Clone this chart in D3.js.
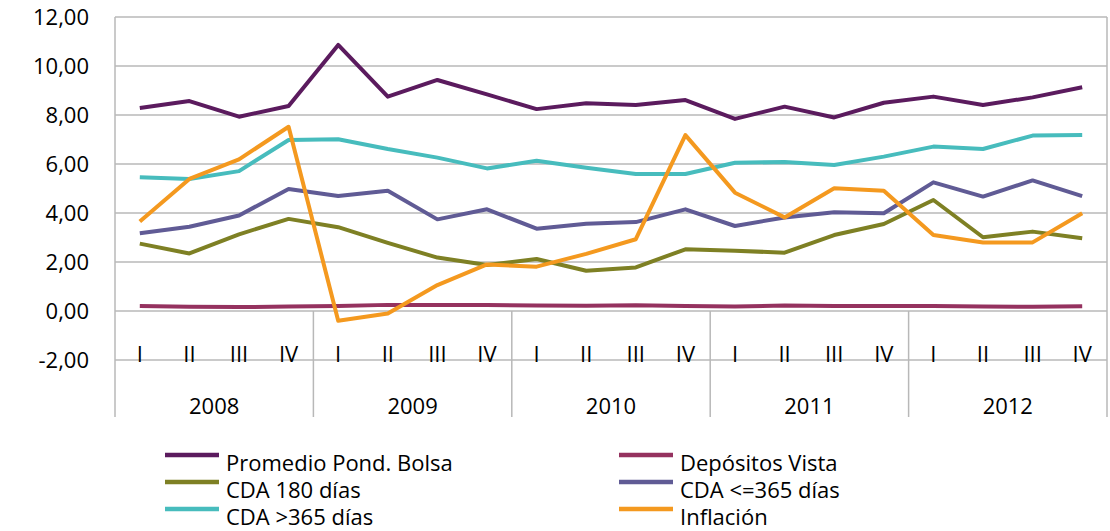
<!DOCTYPE html>
<html>
<head>
<meta charset="utf-8">
<script src="https://cdn.jsdelivr.net/npm/d3@7"></script>
<style>
  body { margin: 0; background: #fff; }
  svg text { font-family: "Open Sans", "Noto Sans", sans-serif; fill: #000; }
</style>
</head>
<body>
<svg id="chart" width="1110" height="531"></svg>
<script>
// data
var years = ["2008", "2009", "2010", "2011", "2012"];
var quarters = ["I", "II", "III", "IV"];
var yTicks = [-2, 0, 2, 4, 6, 8, 10, 12];

var promedioBolsa = [8.29, 8.57, 7.93, 8.37, 10.86, 8.75, 9.43, 8.84, 8.24, 8.48, 8.41, 8.61, 7.84, 8.34, 7.90, 8.50, 8.75, 8.41, 8.72, 9.13];
var depositosVista = [0.20, 0.17, 0.16, 0.18, 0.20, 0.25, 0.25, 0.24, 0.22, 0.21, 0.23, 0.20, 0.18, 0.22, 0.20, 0.20, 0.20, 0.18, 0.17, 0.19];
var cda180 = [2.75, 2.35, 3.13, 3.76, 3.42, 2.78, 2.18, 1.88, 2.12, 1.64, 1.78, 2.52, 2.46, 2.38, 3.10, 3.55, 4.53, 3.01, 3.24, 2.97];
var cdaHasta365 = [3.17, 3.44, 3.90, 4.98, 4.69, 4.91, 3.74, 4.15, 3.36, 3.56, 3.63, 4.15, 3.47, 3.82, 4.03, 3.99, 5.25, 4.67, 5.33, 4.69];
var cdaMas365 = [5.46, 5.39, 5.71, 6.98, 7.01, 6.61, 6.26, 5.82, 6.13, 5.85, 5.59, 5.59, 6.05, 6.08, 5.96, 6.30, 6.71, 6.61, 7.16, 7.18];
var inflacion = [3.65, 5.39, 6.19, 7.52, -0.40, -0.10, 1.06, 1.90, 1.81, 2.33, 2.93, 7.18, 4.83, 3.82, 5.01, 4.91, 3.10, 2.80, 2.80, 3.99];

var seriesNames = ["Promedio Pond. Bolsa", "Depósitos Vista", "CDA 180 días", "CDA <=365 días", "CDA >365 días", "Inflación"];
var seriesColors = ["#5b1b5e", "#95325f", "#7e8024", "#605b95", "#47bcbd", "#f4991f"];
var seriesValues = [promedioBolsa, depositosVista, cda180, cdaHasta365, cdaMas365, inflacion];

var svg = d3.select("#chart");

// plot box (note: "top" is reserved on window, so use plotTop)
var plotLeft = 115, plotRight = 1107, plotTop = 17, plotBottom = 360, axisBottom = 417;

// category keys like 2008-I
var cats = [];
years.forEach(function (yr) {
    quarters.forEach(function (q) { cats.push(yr + "-" + q); });
});

var x = d3.scaleBand().domain(cats).range([plotLeft, plotRight]).padding(0);
var y = d3.scaleLinear().domain([-2, 12]).range([plotBottom, plotTop]);
var cx = function (i) { return x(cats[i]) + x.bandwidth() / 2; };

var grid = "#b8b8b8";

// horizontal gridlines
svg.append("g")
    .selectAll("line")
    .data(yTicks)
    .enter()
    .append("line")
    .attr("x1", plotLeft).attr("x2", plotRight)
    .attr("y1", function (d) { return y(d); })
    .attr("y2", function (d) { return y(d); })
    .attr("stroke", grid)
    .attr("stroke-width", 1.5);

// left and right borders
svg.append("line").attr("x1", plotLeft).attr("x2", plotLeft).attr("y1", plotTop).attr("y2", axisBottom)
    .attr("stroke", grid).attr("stroke-width", 1.5);
svg.append("line").attr("x1", plotRight).attr("x2", plotRight).attr("y1", plotTop).attr("y2", axisBottom)
    .attr("stroke", grid).attr("stroke-width", 1.5);

// year separators below the zero line
svg.append("g")
    .selectAll("line")
    .data(years.slice(1))
    .enter()
    .append("line")
    .attr("x1", function (d) { return x(d + "-I"); })
    .attr("x2", function (d) { return x(d + "-I"); })
    .attr("y1", y(0)).attr("y2", axisBottom)
    .attr("stroke", grid).attr("stroke-width", 1.5);

// y labels, spanish decimal comma and plain hyphen for negatives
var fmt = d3.formatLocale({ decimal: ",", thousands: ".", grouping: [3], currency: ["", ""], minus: "-" }).format(".2f");

svg.append("g")
    .selectAll("text")
    .data(yTicks)
    .enter()
    .append("text")
    .attr("x", 89)
    .attr("y", function (d) { return y(d); })
    .attr("dy", "0.36em")
    .attr("text-anchor", "end")
    .attr("font-size", "22px")
    .text(function (d) { return fmt(d); });

// quarter labels
svg.append("g")
    .selectAll("text")
    .data(cats)
    .enter()
    .append("text")
    .attr("x", function (d) { return x(d) + x.bandwidth() / 2; })
    .attr("y", 362)
    .attr("text-anchor", "middle")
    .attr("font-size", "22px")
    .text(function (d) { return d.split("-")[1]; });

// year labels
svg.append("g")
    .selectAll("text")
    .data(years)
    .enter()
    .append("text")
    .attr("x", function (d) { return x(d + "-I") + x.bandwidth() * 2; })
    .attr("y", 414)
    .attr("text-anchor", "middle")
    .attr("font-size", "22px")
    .text(function (d) { return d; });

// lines
var line = d3.line()
    .x(function (d, i) { return cx(i); })
    .y(function (d) { return y(d); });

svg.append("g")
    .selectAll("path")
    .data(seriesValues)
    .enter()
    .append("path")
    .attr("d", line)
    .attr("fill", "none")
    .attr("stroke", function (d, i) { return seriesColors[i]; })
    .attr("stroke-width", 4)
    .attr("stroke-linejoin", "round");

// legend
var legend = svg.append("g")
    .selectAll("g")
    .data(seriesNames)
    .enter()
    .append("g")
    .attr("transform", function (d, i) {
        var col = i % 2, row = Math.floor(i / 2);
        return "translate(" + (col === 0 ? 165 : 619) + "," + (471 + row * 27) + ")";
    });

legend.append("line")
    .attr("x1", 0).attr("x2", 54)
    .attr("stroke", function (d, i) { return seriesColors[i]; })
    .attr("stroke-width", 4.5)
    .attr("y1", -16).attr("y2", -16);

legend.append("text")
    .attr("x", 61)
    .attr("y", 0)
    .attr("font-size", "22px")
    .text(function (d) { return d; });
</script>
</body>
</html>
